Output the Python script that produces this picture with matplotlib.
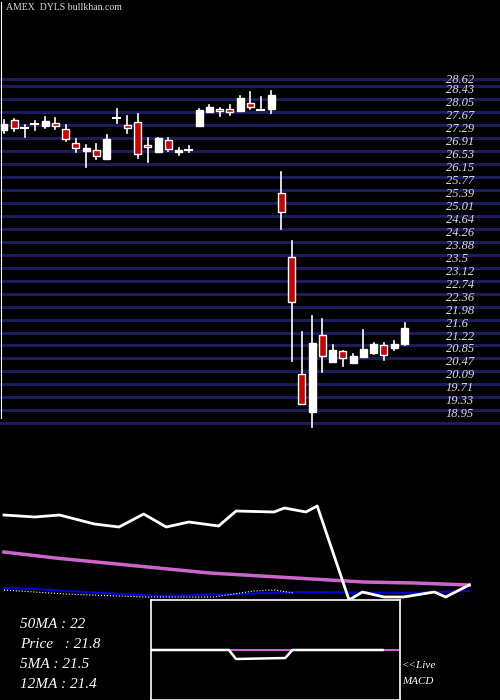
import matplotlib
matplotlib.use("Agg")
import matplotlib.pyplot as plt
from matplotlib.patches import Rectangle

# candle data (index order, daily)
opens = [27.26, 27.55, 27.32, 27.44, 27.38, 27.47, 27.29, 26.88, 26.65, 26.68,
         26.41, 27.61, 27.41, 27.50, 26.82, 26.62, 26.97, 26.62, 26.68,
         27.38, 27.79, 27.87, 27.87, 27.82, 28.05, 27.85, 27.87,
         25.42, 23.55, 20.13, 19.02, 21.27, 20.48, 20.80, 20.45, 20.63, 20.74,
         20.98, 20.89, 21.01]
closes = [27.44, 27.32, 27.32, 27.44, 27.52, 27.38, 27.00, 26.73, 26.73, 26.50,
          27.00, 27.61, 27.32, 26.56, 26.76, 27.03, 26.70, 26.68, 26.68,
          27.85, 27.93, 27.82, 27.79, 28.20, 27.93, 27.85, 28.29,
          24.86, 22.23, 19.25, 21.04, 20.65, 20.83, 20.60, 20.65, 20.86, 21.00,
          20.68, 21.01, 21.48]
highs = [27.55, 27.58, 27.41, 27.52, 27.64, 27.61, 27.41, 27.00, 26.82, 26.85,
         27.12, 27.87, 27.67, 27.73, 27.03, 27.03, 27.03, 26.73, 26.79,
         27.87, 27.99, 27.90, 27.99, 28.26, 28.37, 28.23, 28.40,
         26.03, 24.02, 21.36, 21.82, 21.74, 20.98, 20.80, 20.71, 21.42, 21.04,
         21.04, 21.10, 21.62]
lows = [27.17, 27.23, 27.06, 27.26, 27.32, 27.29, 26.94, 26.62, 26.18, 26.41,
        26.41, 27.47, 27.17, 26.44, 26.33, 26.62, 26.65, 26.53, 26.62,
        27.38, 27.79, 27.67, 27.70, 27.82, 27.87, 27.85, 27.76,
        24.36, 20.51, 19.25, 18.58, 20.19, 20.48, 20.36, 20.45, 20.63, 20.71,
        20.54, 20.83, 20.98]

price_labels = ["28.62", "28.43", "28.05", "27.67", "27.29", "26.91", "26.53", "26.15",
                "25.77", "25.39", "25.01", "24.64", "24.26", "23.88", "23.5", "23.12",
                "22.74", "22.36", "21.98", "21.6", "21.22", "20.85", "20.47", "20.09",
                "19.71", "19.33", "18.95"]

# lower indicator panel (values on a 0-100 panel scale, 0 = top)
ma_x = [0, 3, 5.4, 8.8, 11.2, 13.6, 15.8, 18, 20.9, 22.6, 26.3, 27.3, 29.4, 30.5,
        33.6, 34.9, 37, 38.9, 41.9, 43, 45.3]
ma_white = [15, 17, 15, 24, 27, 14, 27, 22, 26, 11, 12, 8, 12, 6,
            100, 92, 97, 97, 92, 97, 85]
pink_x = [0, 5, 10, 15, 20, 25, 30, 35, 40, 45.3]
pink_vals = [52, 58, 63, 68, 73, 76, 79, 82, 83, 85]
blue_x = [0, 3, 6, 15, 22.5, 29, 39, 45.3]
blue_vals = [88, 89, 91, 96, 94, 92, 93, 91]
dot_x = [0, 6, 13.6, 20.5, 24.3, 26.3, 28.2]
dot_vals = [90, 94, 97, 97, 91, 90, 93]

macd_x = [0, 7.6, 8.3, 13.1, 13.8, 22.6, 24.3]
macd_vals = [0, 0, 9, 8, 0, 0, 0]

info = ["50MA : 22", "Price   : 21.8", "5MA : 21.5", "12MA : 21.4"]

fig = plt.figure(figsize=(5, 7), dpi=100, facecolor="black")

# price axes: full figure, pixel 168 <-> 26.15, 0.02923 per pixel
px = 0.02923
ax = fig.add_axes([0, 0, 1, 1])
ax.set_facecolor("black")
ax.set_xlim(-4 / 10.27, 496 / 10.27)
ax.set_ylim(26.15 - 532 * px, 26.15 + 168 * px)
ax.axis("off")

for lab in price_labels + ["18.57"]:
    y = float(lab) + 0.12
    ax.axhline(y, color="#1c1c5c", lw=2.2, zorder=1)
for lab in price_labels:
    y = float(lab)
    if lab == "28.62":
        y += 3 * px
    ax.text(43.0, y, lab, color="#dddddd", fontsize=9, va="center",
            family="Liberation Serif", style="italic")

w = 0.68
for i in range(len(opens)):
    o, c, h, l = opens[i], closes[i], highs[i], lows[i]
    ax.plot([i, i], [l, h], color="white", lw=1.2, zorder=2)
    lo, hi = min(o, c), max(o, c)
    if hi - lo < 0.03:
        ax.plot([i - w / 2, i + w / 2], [o, o], color="white", lw=1.5, zorder=3)
        continue
    face = "white" if c >= o else "#cc0000"
    ax.add_patch(Rectangle((i - w / 2, lo), w, hi - lo, facecolor=face,
                           edgecolor="white", lw=1.0, zorder=3))

ax.plot([-0.3, -0.3], [26.15 - 250 * px, 31.0], color="white", lw=0.8)
ax.text(0.2, 26.15 + 160 * px, "AMEX  DYLS bullkhan.com", color="#dddddd",
        fontsize=7, family="Liberation Serif", va="center")

# indicator panel: pixels 500..600
ax2 = fig.add_axes([0, 100 / 700, 1, 100 / 700])
ax2.set_facecolor("none")
ax2.set_xlim(-4 / 10.27, 496 / 10.27)
ax2.set_ylim(100, 0)
ax2.axis("off")
ax2.plot(pink_x, pink_vals, color="#cc66cc", lw=2.5)
ax2.plot(blue_x, blue_vals, color="#0000dd", lw=1.5)
ax2.plot(dot_x, dot_vals, color="white", lw=0.8, ls=":")
ax2.plot(ma_x, ma_white, color="white", lw=2)

# MACD box: pixels x 151..400, y 600..700
ax3 = fig.add_axes([151 / 500, 0, 249 / 500, 100 / 700])
ax3.set_facecolor("black")
ax3.set_xlim(0, 24.3)
ax3.set_ylim(50, -50)
ax3.set_xticks([])
ax3.set_yticks([])
for s in ax3.spines.values():
    s.set_color("white")
    s.set_linewidth(1.2)
ax3.plot([0, 24.3], [0, 0], color="#cc66cc", lw=1.5)
ax3.plot(macd_x[:-1], macd_vals[:-1], color="white", lw=1.8)

for k, t in enumerate(info):
    fig.text(20 / 500, 1 - (625 + 20 * k) / 700, t, color="white", fontsize=11,
             family="Liberation Serif", style="italic", va="center")
fig.text(402 / 500, 1 - 666 / 700, "<<Live", color="white", fontsize=8,
         family="Liberation Serif", style="italic", va="center")
fig.text(402 / 500, 1 - 681 / 700, "MACD", color="white", fontsize=8,
         family="Liberation Serif", style="italic", va="center")

fig.savefig("out.png", dpi=100, facecolor="black")
